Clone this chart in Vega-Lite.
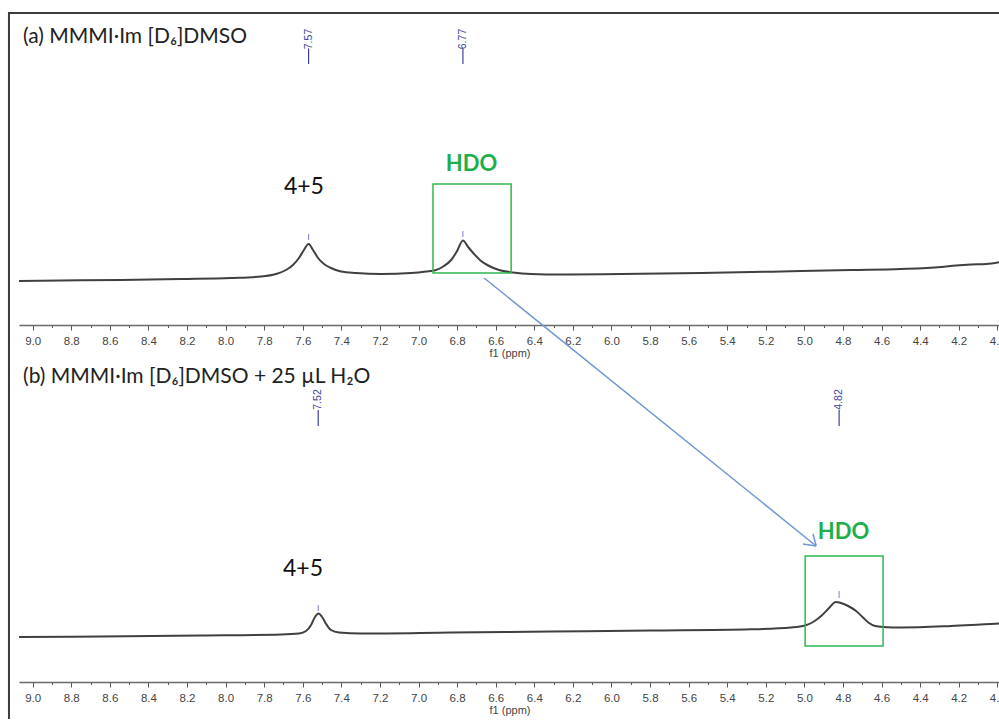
{
  "$schema": "https://vega.github.io/schema/vega-lite/v6.json",
  "padding": {"left": 7, "top": 11, "right": 0, "bottom": 0},
  "background": "white",
  "spacing": 36,
  "bounds": "flush",
  "datasets": {
    "spectra": [
      {"panel": "a", "ppm": 9.071, "intensity": 44},
      {"panel": "a", "ppm": 8.853, "intensity": 44.5},
      {"panel": "a", "ppm": 8.542, "intensity": 45},
      {"panel": "a", "ppm": 8.231, "intensity": 46},
      {"panel": "a", "ppm": 7.972, "intensity": 47},
      {"panel": "a", "ppm": 7.816, "intensity": 48.5},
      {"panel": "a", "ppm": 7.739, "intensity": 51},
      {"panel": "a", "ppm": 7.687, "intensity": 55},
      {"panel": "a", "ppm": 7.651, "intensity": 60},
      {"panel": "a", "ppm": 7.620, "intensity": 67},
      {"panel": "a", "ppm": 7.594, "intensity": 75},
      {"panel": "a", "ppm": 7.570, "intensity": 81},
      {"panel": "a", "ppm": 7.547, "intensity": 75},
      {"panel": "a", "ppm": 7.521, "intensity": 67},
      {"panel": "a", "ppm": 7.490, "intensity": 61},
      {"panel": "a", "ppm": 7.454, "intensity": 57},
      {"panel": "a", "ppm": 7.402, "intensity": 53.5},
      {"panel": "a", "ppm": 7.324, "intensity": 52},
      {"panel": "a", "ppm": 7.194, "intensity": 51},
      {"panel": "a", "ppm": 7.039, "intensity": 52},
      {"panel": "a", "ppm": 6.961, "intensity": 53.5},
      {"panel": "a", "ppm": 6.909, "intensity": 55},
      {"panel": "a", "ppm": 6.868, "intensity": 59},
      {"panel": "a", "ppm": 6.831, "intensity": 65},
      {"panel": "a", "ppm": 6.800, "intensity": 74},
      {"panel": "a", "ppm": 6.770, "intensity": 84.5},
      {"panel": "a", "ppm": 6.743, "intensity": 78},
      {"panel": "a", "ppm": 6.712, "intensity": 71},
      {"panel": "a", "ppm": 6.676, "intensity": 64},
      {"panel": "a", "ppm": 6.634, "intensity": 59},
      {"panel": "a", "ppm": 6.583, "intensity": 55},
      {"panel": "a", "ppm": 6.510, "intensity": 52.5},
      {"panel": "a", "ppm": 6.417, "intensity": 51},
      {"panel": "a", "ppm": 6.261, "intensity": 50.5},
      {"panel": "a", "ppm": 5.950, "intensity": 51},
      {"panel": "a", "ppm": 5.536, "intensity": 52},
      {"panel": "a", "ppm": 5.121, "intensity": 53.5},
      {"panel": "a", "ppm": 4.758, "intensity": 55},
      {"panel": "a", "ppm": 4.499, "intensity": 56},
      {"panel": "a", "ppm": 4.291, "intensity": 58},
      {"panel": "a", "ppm": 4.214, "intensity": 59.5},
      {"panel": "a", "ppm": 4.136, "intensity": 60.5},
      {"panel": "a", "ppm": 4.058, "intensity": 61},
      {"panel": "a", "ppm": 3.985, "intensity": 63},
      {"panel": "b", "ppm": 9.071, "intensity": 45},
      {"panel": "b", "ppm": 8.646, "intensity": 45.5},
      {"panel": "b", "ppm": 8.128, "intensity": 46.5},
      {"panel": "b", "ppm": 7.713, "intensity": 47.5},
      {"panel": "b", "ppm": 7.620, "intensity": 48.5},
      {"panel": "b", "ppm": 7.583, "intensity": 51},
      {"panel": "b", "ppm": 7.557, "intensity": 57},
      {"panel": "b", "ppm": 7.537, "intensity": 65},
      {"panel": "b", "ppm": 7.518, "intensity": 68.5},
      {"panel": "b", "ppm": 7.500, "intensity": 65},
      {"panel": "b", "ppm": 7.479, "intensity": 58},
      {"panel": "b", "ppm": 7.454, "intensity": 52},
      {"panel": "b", "ppm": 7.412, "intensity": 49.5},
      {"panel": "b", "ppm": 7.298, "intensity": 48.5},
      {"panel": "b", "ppm": 6.831, "intensity": 49.5},
      {"panel": "b", "ppm": 6.313, "intensity": 50.5},
      {"panel": "b", "ppm": 5.795, "intensity": 51.5},
      {"panel": "b", "ppm": 5.276, "intensity": 52.7},
      {"panel": "b", "ppm": 5.069, "intensity": 54.5},
      {"panel": "b", "ppm": 4.996, "intensity": 56.5},
      {"panel": "b", "ppm": 4.955, "intensity": 60},
      {"panel": "b", "ppm": 4.913, "intensity": 66},
      {"panel": "b", "ppm": 4.872, "intensity": 74},
      {"panel": "b", "ppm": 4.837, "intensity": 80},
      {"panel": "b", "ppm": 4.810, "intensity": 79},
      {"panel": "b", "ppm": 4.773, "intensity": 76},
      {"panel": "b", "ppm": 4.732, "intensity": 71},
      {"panel": "b", "ppm": 4.696, "intensity": 64.5},
      {"panel": "b", "ppm": 4.665, "intensity": 59},
      {"panel": "b", "ppm": 4.634, "intensity": 56},
      {"panel": "b", "ppm": 4.592, "intensity": 55},
      {"panel": "b", "ppm": 4.499, "intensity": 54.5},
      {"panel": "b", "ppm": 4.240, "intensity": 56},
      {"panel": "b", "ppm": 3.985, "intensity": 58.5}
    ],
    "titles": [
      {"panel": "a", "ppm": 9.05, "intensity": 281.7, "text": "(a) MMMI·Im [D₆]DMSO"},
      {"panel": "b", "ppm": 9.05, "intensity": 299.3, "text": "(b) MMMI·Im [D₆]DMSO + 25 µL H₂O"}
    ],
    "groups": [
      {"panel": "a", "ppm": 7.594, "intensity": 130.7, "text": "4+5"},
      {"panel": "b", "ppm": 7.599, "intensity": 106, "text": "4+5"}
    ],
    "hdo": [
      {"panel": "a", "ppm": 6.725, "intensity": 154, "text": "HDO"},
      {"panel": "b", "ppm": 4.797, "intensity": 142.7, "text": "HDO"}
    ],
    "boxes": [
      {"panel": "a", "ppm": 6.925, "ppm2": 6.52, "intensity": 141, "intensity2": 52},
      {"panel": "b", "ppm": 4.996, "ppm2": 4.592, "intensity": 126, "intensity2": 36}
    ],
    "peakLabels": [
      {"panel": "a", "ppm": 7.57, "intensity": 286, "text": "7.57"},
      {"panel": "a", "ppm": 6.77, "intensity": 286, "text": "6.77"},
      {"panel": "b", "ppm": 7.52, "intensity": 282.5, "text": "7.52"},
      {"panel": "b", "ppm": 4.82, "intensity": 282.5, "text": "4.82"}
    ],
    "peakLines": [
      {"panel": "a", "ppm": 7.57, "ppm2": 7.57, "intensity": 276.5, "intensity2": 261},
      {"panel": "a", "ppm": 6.77, "ppm2": 6.77, "intensity": 276.5, "intensity2": 261},
      {"panel": "b", "ppm": 7.52, "ppm2": 7.52, "intensity": 272, "intensity2": 256},
      {"panel": "b", "ppm": 4.82, "ppm2": 4.82, "intensity": 272, "intensity2": 256}
    ],
    "peakMarks": [
      {"panel": "a", "ppm": 7.57, "ppm2": 7.57, "intensity": 85, "intensity2": 91},
      {"panel": "a", "ppm": 6.77, "ppm2": 6.77, "intensity": 88, "intensity2": 94},
      {"panel": "b", "ppm": 7.52, "ppm2": 7.52, "intensity": 71, "intensity2": 77},
      {"panel": "b", "ppm": 4.82, "ppm2": 4.82, "intensity": 84, "intensity2": 91}
    ],
    "arrow": [
      {"ppm": 6.66, "ppm2": 4.939, "intensity": 47, "intensity2": -221},
      {"ppm": 4.939, "ppm2": 5.007, "intensity": -221, "intensity2": -219},
      {"ppm": 4.939, "ppm2": 4.955, "intensity": -221, "intensity2": -209}
    ],
    "frame": [
      {"ppm": 9.128, "ppm2": 3.985, "intensity": 312, "intensity2": 312},
      {"ppm": 9.123, "ppm2": 9.123, "intensity": 312.5, "intensity2": -394}
    ]
  },
  "vconcat": [
    {
      "width": 981,
      "height": 312,
      "encoding": {
        "x": {"field": "ppm", "type": "quantitative", "title": "f1 (ppm)",
          "scale": {"domain": [9.071, 3.986], "nice": false, "zero": false},
          "axis": {
            "values": [9.0, 8.9, 8.8, 8.7, 8.6, 8.5, 8.4, 8.3, 8.2, 8.1, 8.0, 7.9, 7.8, 7.7, 7.6, 7.5, 7.4, 7.3, 7.2, 7.1, 7.0, 6.9, 6.8, 6.7, 6.6, 6.5, 6.4, 6.3, 6.2, 6.1, 6.0, 5.9, 5.8, 5.7, 5.6, 5.5, 5.4, 5.3, 5.2, 5.1, 5.0, 4.9, 4.8, 4.7, 4.6, 4.5, 4.4, 4.3, 4.2, 4.1, 4.0],
            "labelExpr": "round(datum.value * 10) % 2 === 0 ? format(datum.value, '.1f') : ''",
            "tickSize": {"condition": {"test": "round(datum.value * 10) % 2 === 0", "value": 5}, "value": 2.5},
            "labelOverlap": false, "labelFlush": false, "grid": false,
            "labelFont": "Liberation Sans", "labelFontSize": 11.5, "labelColor": "#444", "labelPadding": 5,
            "titleFont": "Liberation Sans", "titleFontSize": 11, "titleFontWeight": "normal", "titleColor": "#444", "titlePadding": 1,
            "domainColor": "#6a6a6a", "domainWidth": 1.5, "tickColor": "#555", "tickWidth": 1
          }
        },
        "y": {"field": "intensity", "type": "quantitative", "scale": {"domain": [0, 312], "nice": false, "zero": false}, "axis": null}
      },
      "layer": [
        {"data": {"name": "frame"}, "mark": {"type": "rule", "color": "#3c3c3c", "strokeWidth": 2}, "encoding": {"x2": {"field": "ppm2"}, "y2": {"field": "intensity2"}}},
        {"data": {"name": "spectra"}, "transform": [{"filter": "datum.panel === 'a'"}], "mark": {"type": "line", "color": "#404040", "strokeWidth": 2, "interpolate": "monotone"}},
        {"data": {"name": "boxes"}, "transform": [{"filter": "datum.panel === 'a'"}], "mark": {"type": "rect", "filled": false, "stroke": "#2fb84f", "strokeWidth": 1.5}, "encoding": {"x2": {"field": "ppm2"}, "y2": {"field": "intensity2"}}},
        {"data": {"name": "peakMarks"}, "transform": [{"filter": "datum.panel === 'a'"}], "mark": {"type": "rule", "color": "#7f7fd6", "strokeWidth": 1}, "encoding": {"x2": {"field": "ppm2"}, "y2": {"field": "intensity2"}}},
        {"data": {"name": "peakLines"}, "transform": [{"filter": "datum.panel === 'a'"}], "mark": {"type": "rule", "color": "#40409a", "strokeWidth": 1.2}, "encoding": {"x2": {"field": "ppm2"}, "y2": {"field": "intensity2"}}},
        {"data": {"name": "peakLabels"}, "transform": [{"filter": "datum.panel === 'a'"}], "mark": {"type": "text", "angle": 270, "align": "center", "baseline": "middle", "font": "Liberation Sans", "fontSize": 10.5, "color": "#40409a"}, "encoding": {"text": {"field": "text"}}},
        {"data": {"name": "titles"}, "transform": [{"filter": "datum.panel === 'a'"}], "mark": {"type": "text", "align": "left", "baseline": "alphabetic", "font": "Lato", "fontSize": 21, "color": "#222"}, "encoding": {"text": {"field": "text"}}},
        {"data": {"name": "groups"}, "transform": [{"filter": "datum.panel === 'a'"}], "mark": {"type": "text", "align": "center", "baseline": "alphabetic", "font": "Lato", "fontSize": 23, "color": "#111"}, "encoding": {"text": {"field": "text"}}},
        {"data": {"name": "hdo"}, "transform": [{"filter": "datum.panel === 'a'"}], "mark": {"type": "text", "align": "center", "baseline": "alphabetic", "font": "Lato", "fontSize": 22, "fontWeight": "bold", "color": "#1daf4a"}, "encoding": {"text": {"field": "text"}}},
        {"data": {"name": "arrow"}, "mark": {"type": "rule", "color": "#6f97d0", "strokeWidth": 1.5}, "encoding": {"x2": {"field": "ppm2"}, "y2": {"field": "intensity2"}}}
      ]
    },
    {
      "width": 981,
      "height": 321,
      "encoding": {
        "x": {"field": "ppm", "type": "quantitative", "title": "f1 (ppm)",
          "scale": {"domain": [9.071, 3.986], "nice": false, "zero": false},
          "axis": {
            "values": [9.0, 8.9, 8.8, 8.7, 8.6, 8.5, 8.4, 8.3, 8.2, 8.1, 8.0, 7.9, 7.8, 7.7, 7.6, 7.5, 7.4, 7.3, 7.2, 7.1, 7.0, 6.9, 6.8, 6.7, 6.6, 6.5, 6.4, 6.3, 6.2, 6.1, 6.0, 5.9, 5.8, 5.7, 5.6, 5.5, 5.4, 5.3, 5.2, 5.1, 5.0, 4.9, 4.8, 4.7, 4.6, 4.5, 4.4, 4.3, 4.2, 4.1, 4.0],
            "labelExpr": "round(datum.value * 10) % 2 === 0 ? format(datum.value, '.1f') : ''",
            "tickSize": {"condition": {"test": "round(datum.value * 10) % 2 === 0", "value": 5}, "value": 2.5},
            "labelOverlap": false, "labelFlush": false, "grid": false,
            "labelFont": "Liberation Sans", "labelFontSize": 11.5, "labelColor": "#444", "labelPadding": 5,
            "titleFont": "Liberation Sans", "titleFontSize": 11, "titleFontWeight": "normal", "titleColor": "#444", "titlePadding": 1,
            "domainColor": "#6a6a6a", "domainWidth": 1.5, "tickColor": "#555", "tickWidth": 1
          }
        },
        "y": {"field": "intensity", "type": "quantitative", "scale": {"domain": [0, 321], "nice": false, "zero": false}, "axis": null}
      },
      "layer": [
        {"data": {"name": "spectra"}, "transform": [{"filter": "datum.panel === 'b'"}], "mark": {"type": "line", "color": "#404040", "strokeWidth": 2, "interpolate": "monotone"}},
        {"data": {"name": "boxes"}, "transform": [{"filter": "datum.panel === 'b'"}], "mark": {"type": "rect", "filled": false, "stroke": "#2fb84f", "strokeWidth": 1.5}, "encoding": {"x2": {"field": "ppm2"}, "y2": {"field": "intensity2"}}},
        {"data": {"name": "peakMarks"}, "transform": [{"filter": "datum.panel === 'b'"}], "mark": {"type": "rule", "color": "#7f7fd6", "strokeWidth": 1}, "encoding": {"x2": {"field": "ppm2"}, "y2": {"field": "intensity2"}}},
        {"data": {"name": "peakLines"}, "transform": [{"filter": "datum.panel === 'b'"}], "mark": {"type": "rule", "color": "#40409a", "strokeWidth": 1.2}, "encoding": {"x2": {"field": "ppm2"}, "y2": {"field": "intensity2"}}},
        {"data": {"name": "peakLabels"}, "transform": [{"filter": "datum.panel === 'b'"}], "mark": {"type": "text", "angle": 270, "align": "center", "baseline": "middle", "font": "Liberation Sans", "fontSize": 10.5, "color": "#40409a"}, "encoding": {"text": {"field": "text"}}},
        {"data": {"name": "titles"}, "transform": [{"filter": "datum.panel === 'b'"}], "mark": {"type": "text", "align": "left", "baseline": "alphabetic", "font": "Lato", "fontSize": 21, "color": "#222"}, "encoding": {"text": {"field": "text"}}},
        {"data": {"name": "groups"}, "transform": [{"filter": "datum.panel === 'b'"}], "mark": {"type": "text", "align": "center", "baseline": "alphabetic", "font": "Lato", "fontSize": 23, "color": "#111"}, "encoding": {"text": {"field": "text"}}},
        {"data": {"name": "hdo"}, "transform": [{"filter": "datum.panel === 'b'"}], "mark": {"type": "text", "align": "center", "baseline": "alphabetic", "font": "Lato", "fontSize": 22, "fontWeight": "bold", "color": "#1daf4a"}, "encoding": {"text": {"field": "text"}}}
      ]
    }
  ],
  "config": {"view": {"stroke": null}}
}
